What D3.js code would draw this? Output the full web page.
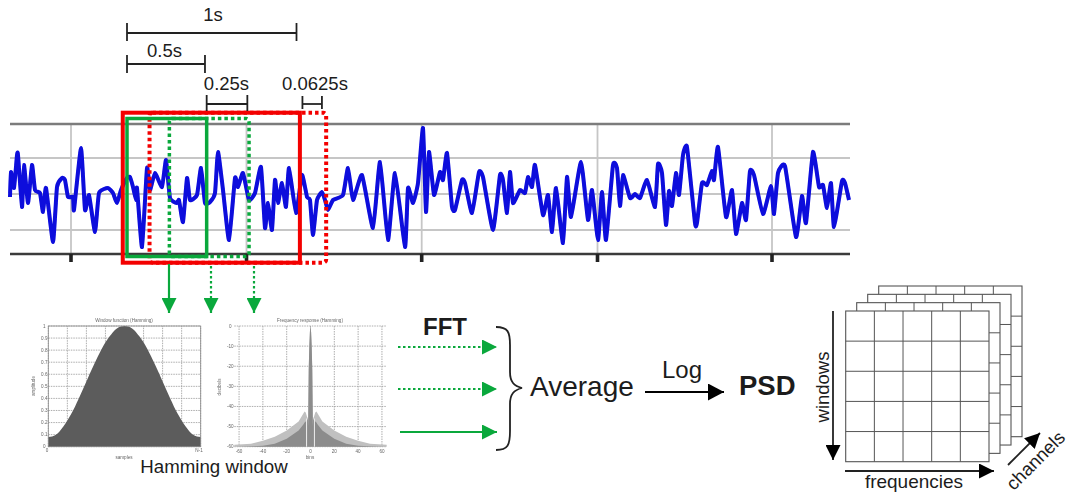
<!DOCTYPE html>
<html>
<head>
<meta charset="utf-8">
<script src="https://cdn.jsdelivr.net/npm/d3@7"></script>
<style>
  html, body { margin: 0; padding: 0; background: #fff; }
  text { font-family: "Liberation Sans", sans-serif; fill: #1c1c1c; }
</style>
</head>
<body>
<div id="chart"></div>
<script>
// EEG trace, sample index and amplitude
var sampleIdx = [0,1,4,7,8,12,14,18,22,25,30,33,36,43,47,52,55,58,63,64,71,75,79,85,89,98,103,107,111,117,120,123,126,127,132,137,140,145,152,156,160,167,169,173,177,180,187,191,195,200,205,208,213,219,225,228,233,239,245,251,255,258,262,265,268,272,276,279,286,292,297,300,303,307,312,315,318,323,333,338,343,352,363,370,378,385,395,398,403,408,413,416,419,424,430,433,437,442,445,452,455,462,469,473,483,490,493,497,500,503,510,515,518,522,525,533,538,542,546,553,557,561,571,578,582,588,592,596,603,607,610,613,620,625,630,637,645,648,652,656,659,662,666,669,673,677,685,687,692,697,702,704,708,716,722,726,732,736,740,744,753,761,764,768,775,786,792,796,803,809,813,817,821,824,832,835,839];
var sampleAmp = [-3,22,6,39,39,-13,29,-9,29,4,1,-18,6,-48,7,16,14,-3,-3,-16,46,-16,-1,-38,1,6,1,-9,4,16,17,7,-6,6,-53,26,4,21,7,34,-4,-9,-6,-28,16,-6,-1,26,-9,-8,1,42,4,-46,16,7,21,-6,1,27,-34,-9,-36,14,-9,11,-13,26,-19,19,-3,-6,-41,-6,2,-6,-16,-6,-1,26,-6,19,-34,32,-46,21,-53,6,-9,11,66,-18,42,-1,22,14,41,-13,-16,14,11,-19,22,17,-36,19,14,-19,22,-9,4,1,17,7,29,-21,-1,-38,6,-49,17,-23,32,-26,4,-46,2,-46,29,26,-12,19,-4,0,-4,14,-13,30,21,-31,3,-12,21,-1,39,47,-29,-29,11,9,23,14,47,-23,4,-40,-9,-26,23,19,-20,8,-20,21,28,-43,-2,-29,42,7,9,-14,11,-33,13,11,-6];
var ampGrid = [36, 0, -36];
var timeTicks = [61, 236.5, 411.7, 587.5, 762];

// analysis windows, seconds from the start of the first 1s window
var redWindows = [[0.133, 1.175], [-0.025, 1.02]];
var greenWindows = [[0.25, 0.72], [0, 0.47]];
var redDash = [true, false];
var greenDash = [true, false];

// duration brackets: start, end, label
var bracketStart = [0, 0, 0.47, 1.035];
var bracketEnd = [1, 0.46, 0.71, 1.15];
var bracketLabel = ["1s", "0.5s", "0.25s", "0.0625s"];

// Hamming window amplitude
var hammingX = [0,0.05,0.1,0.15,0.2,0.25,0.3,0.35,0.4,0.45,0.5,0.55,0.6,0.65,0.7,0.75,0.8,0.85,0.9,0.95,1];
var hammingY = [0.08,0.1,0.17,0.27,0.4,0.54,0.68,0.81,0.91,0.98,1,0.98,0.91,0.81,0.68,0.54,0.4,0.27,0.17,0.1,0.08];
var ampTicks = [0,0.1,0.2,0.3,0.4,0.5,0.6,0.7,0.8,0.9,1];

// frequency response in decibels, envelope and inner fill
var binX = [-64,-50,-40,-30,-20,-10,-6,-5,-4,-3,-2.2,-2,-1.5,-1,-0.5,0,0.5,1,1.5,2,2.2,3,4,5,6,10,20,30,40,50,64];
var envelopeDb = [-59,-58.5,-57,-55,-52,-47.5,-43.5,-42.5,-43,-45,-46,-50,-22,-10,-3,0,-3,-10,-22,-50,-46,-45,-43,-42.5,-43.5,-47.5,-52,-55,-57,-58.5,-59];
var innerDb = [-60,-59.8,-59.5,-58.5,-56,-52,-49,-48,-47.5,-47,-46,-50,-22,-10,-3,0,-3,-10,-22,-50,-46,-47,-47.5,-48,-49,-52,-56,-58.5,-59.5,-59.8,-60];
var dbTicks = [0,-10,-20,-30,-40,-50,-60];
var binTicks = [-60,-40,-20,0,20,40,60];

// PSD cube
var cubeLayers = [3, 2, 1, 0];
var freqCols = [0, 1, 2, 3, 4];
var windowRows = [0, 1, 2, 3, 4];

var green = "#0aa83c", red = "#f30000", blue = "#0808dc";

var svg = d3.select("#chart").append("svg")
	.attr("width", 1072)
	.attr("height", 492)
	.style("display", "block");

var defs = svg.append("defs");
defs.append("filter").attr("id", "soft").append("feGaussianBlur").attr("stdDeviation", 0.6);
defs.append("filter").attr("id", "softer").append("feGaussianBlur").attr("stdDeviation", 0.4);

function marker(id, color, w, h) {
	defs.append("marker")
		.attr("id", id)
		.attr("markerUnits", "userSpaceOnUse")
		.attr("markerWidth", w)
		.attr("markerHeight", h)
		.attr("refX", w)
		.attr("refY", h / 2)
		.attr("orient", "auto")
		.append("path")
		.attr("d", "M0,0L" + w + "," + (h / 2) + "L0," + h + "Z")
		.attr("fill", color);
}
marker("headGreen", green, 15, 15);
marker("headBlack", "#000", 16, 17);
marker("headSmall", "#000", 15, 15);

function arrow(x1, y1, x2, y2, color, width, head, dash) {
	svg.append("line")
		.attr("x1", x1).attr("y1", y1).attr("x2", x2).attr("y2", y2)
		.attr("stroke", color)
		.attr("stroke-width", width)
		.attr("stroke-dasharray", dash || null)
		.attr("marker-end", "url(#" + head + ")");
}

// signal panel
var sx = d3.scaleLinear().domain([0, 840]).range([10, 850]);
var sy = d3.scaleLinear().domain([-60, 70]).range([254, 124]);
var tx = d3.scaleLinear().domain([0, 1]).range([127, 296.5]);

var panel = svg.append("g").attr("filter", "url(#soft)");
panel.selectAll(".grid-h").data(ampGrid).enter().append("line")
	.attr("x1", sx(0)).attr("x2", sx(840))
	.attr("y1", function(d) { return sy(d); })
	.attr("y2", function(d) { return sy(d); })
	.attr("stroke", "#c6c6c6").attr("stroke-width", 1.8);
panel.selectAll(".grid-v").data(timeTicks).enter().append("line")
	.attr("x1", function(d) { return sx(d); })
	.attr("x2", function(d) { return sx(d); })
	.attr("y1", sy(70)).attr("y2", sy(-60))
	.attr("stroke", "#c6c6c6").attr("stroke-width", 1.8);
panel.append("line").attr("x1", sx(0)).attr("x2", sx(840)).attr("y1", sy(70)).attr("y2", sy(70))
	.attr("stroke", "#7c7c7c").attr("stroke-width", 2.6);
panel.append("line").attr("x1", sx(0)).attr("x2", sx(840)).attr("y1", sy(-60)).attr("y2", sy(-60))
	.attr("stroke", "#3a3a3a").attr("stroke-width", 2.6);
panel.selectAll(".tick").data(timeTicks).enter().append("line")
	.attr("x1", function(d) { return sx(d); })
	.attr("x2", function(d) { return sx(d); })
	.attr("y1", sy(-60)).attr("y2", sy(-68))
	.attr("stroke", "#222").attr("stroke-width", 3.6);

var signalLine = d3.line()
	.x(function(d, i) { return sx(sampleIdx[i]); })
	.y(function(d) { return sy(d); })
	.curve(d3.curveCardinal.tension(0.55));
panel.append("path")
	.datum(sampleAmp)
	.attr("d", signalLine)
	.attr("fill", "none")
	.attr("stroke", blue)
	.attr("stroke-width", 4)
	.attr("stroke-linejoin", "round");

// analysis windows, dotted first so the solid ones sit on top
function drawWindow(d, dashed, color, y0, y1, w) {
	svg.append("rect")
		.attr("x", tx(d[0]))
		.attr("y", y0)
		.attr("width", tx(d[1]) - tx(d[0]))
		.attr("height", y1 - y0)
		.attr("rx", dashed ? 3 : 0)
		.attr("fill", "none")
		.attr("stroke", color)
		.attr("stroke-width", w)
		.attr("stroke-dasharray", dashed ? "3.5 3" : null);
}
redWindows.forEach(function(d, i) { if (redDash[i]) drawWindow(d, true, red, 112.7, 262.7, 4); });
greenWindows.forEach(function(d, i) { if (greenDash[i]) drawWindow(d, true, green, 118.5, 256.5, 3.5); });
redWindows.forEach(function(d, i) { if (!redDash[i]) drawWindow(d, false, red, 112.7, 262.7, 4); });
greenWindows.forEach(function(d, i) { if (!greenDash[i]) drawWindow(d, false, green, 118.5, 256.5, 3.5); });

// duration brackets
var bracketY = [33, 64, 104, 104];
var labelX = [213, 164.5, 226.5, 315];
var labelY = [21, 57, 90, 90];
var tickUp = [10, 9, 9, 8];
var tickDown = [8, 9, 7, 5];
var fig = svg.append("g").attr("filter", "url(#softer)");
bracketStart.forEach(function(s, i) {
	var x0 = tx(s), x1 = tx(bracketEnd[i]), y = bracketY[i];
	fig.append("line").attr("x1", x0).attr("x2", x1).attr("y1", y).attr("y2", y)
		.attr("stroke", "#222").attr("stroke-width", 1.8);
	[x0, x1].forEach(function(x) {
		fig.append("line").attr("x1", x).attr("x2", x).attr("y1", y - tickUp[i]).attr("y2", y + tickDown[i])
			.attr("stroke", "#222").attr("stroke-width", 1.8);
	});
	svg.append("text")
		.attr("x", labelX[i]).attr("y", labelY[i])
		.attr("text-anchor", "middle")
		.style("font-size", "18.5px")
		.text(bracketLabel[i]);
});

// green arrows from the windows to the small plots
arrow(169, 264, 169, 313, green, 2.2, "headGreen");
arrow(211, 266, 211, 313, green, 2.2, "headGreen", "2.5 2.5");
arrow(254, 266, 254, 313, green, 2.2, "headGreen", "2.5 2.5");

// small plots
function miniGrid(g, x, y, xt, yt) {
	g.selectAll(".gx").data(xt).enter().append("line")
		.attr("x1", function(d) { return x(d); }).attr("x2", function(d) { return x(d); })
		.attr("y1", y.range()[0]).attr("y2", y.range()[1])
		.attr("stroke", "#999").attr("stroke-width", 0.8).attr("stroke-dasharray", "1.5 1");
	g.selectAll(".gy").data(yt).enter().append("line")
		.attr("x1", x.range()[0]).attr("x2", x.range()[1])
		.attr("y1", function(d) { return y(d); }).attr("y2", function(d) { return y(d); })
		.attr("stroke", "#999").attr("stroke-width", 0.8).attr("stroke-dasharray", "1.5 1");
}
function miniFrame(g, x, y) {
	g.append("rect")
		.attr("x", x.range()[0]).attr("y", y.range()[1])
		.attr("width", x.range()[1] - x.range()[0])
		.attr("height", y.range()[0] - y.range()[1])
		.attr("fill", "none").attr("stroke", "#888").attr("stroke-width", 0.8);
}
function miniText(g, s, x, y, rot) {
	var t = g.append("text")
		.attr("text-anchor", "middle")
		.style("font-size", "4.6px")
		.style("fill", "#666")
		.text(s);
	if (rot) t.attr("transform", "translate(" + x + "," + y + ") rotate(-90)");
	else t.attr("x", x).attr("y", y);
}

// Hamming window plot
var hx = d3.scaleLinear().domain([0, 1]).range([48.3, 200.7]);
var hy = d3.scaleLinear().domain([0, 1]).range([446.7, 326]);
var g1 = svg.append("g").attr("filter", "url(#softer)");
miniGrid(g1, hx, hy, d3.range(0, 1.01, 0.125), ampTicks);
g1.append("path")
	.datum(hammingY)
	.attr("d", d3.area()
		.x(function(d, i) { return hx(hammingX[i]); })
		.y0(hy(0))
		.y1(function(d) { return hy(d); })
		.curve(d3.curveMonotoneX))
	.attr("fill", "#5b5b5b");
miniFrame(g1, hx, hy);
ampTicks.forEach(function(d) {
	var s = d === 0 ? "0" : d === 1 ? "1" : d.toFixed(1);
	miniText(g1, s, hx(0) - 4, hy(d) + 1.6);
});
miniText(g1, "Window function (Hamming)", 124, 322);
miniText(g1, "amplitude", 35, 386, true);
miniText(g1, "samples", 124, 459);
miniText(g1, "0", 47, 452);
miniText(g1, "N-1", 199, 452);

// frequency response plot
var fx = d3.scaleLinear().domain([-64, 64]).range([234.3, 386.7]);
var fy = d3.scaleLinear().domain([0, -60]).range([326, 446.7]);
var g2 = svg.append("g").attr("filter", "url(#softer)");
miniGrid(g2, fx, fy, binTicks, dbTicks);
var dbArea = d3.area()
	.x(function(d, i) { return fx(binX[i]); })
	.y0(fy(-60))
	.y1(function(d) { return fy(d); });
g2.append("path").datum(envelopeDb).attr("d", dbArea).attr("fill", "#c0c0c0");
g2.append("path").datum(innerDb).attr("d", dbArea).attr("fill", "#8c8c8c");
[-3.3, 3.3].forEach(function(b) {
	g2.append("line")
		.attr("x1", fx(b)).attr("x2", fx(b)).attr("y1", fy(-46)).attr("y2", fy(-60))
		.attr("stroke", "#eee").attr("stroke-width", 1);
});
miniFrame(g2, fx, fy);
dbTicks.forEach(function(d) { miniText(g2, String(d), fx.range()[0] - 4, fy(d) + 1.6); });
binTicks.forEach(function(d) { miniText(g2, String(d), fx(d), 453); });
miniText(g2, "Frequency response (Hamming)", 310, 322);
miniText(g2, "decibels", 221, 387, true);
miniText(g2, "bins", 310, 459);

svg.append("text").attr("x", 214).attr("y", 473).attr("text-anchor", "middle")
	.style("font-size", "18.7px").text("Hamming window");

// FFT arrows
arrow(398, 347, 497, 347, green, 2.2, "headGreen", "2.5 2.5");
arrow(398, 389, 497, 389, green, 2.2, "headGreen", "2.5 2.5");
arrow(400, 432, 497, 432, green, 2.2, "headGreen");
svg.append("text").attr("x", 445).attr("y", 335).attr("text-anchor", "middle")
	.style("font-size", "24px").style("font-weight", "bold").text("FFT");

// brace
svg.append("path")
	.attr("d", "M496,327C508,327 510,332 510,345L510,372C510,382 514,386 522,388C514,390 510,394 510,404L510,431C510,445 508,450 496,450")
	.attr("fill", "none").attr("stroke", "#222").attr("stroke-width", 1.8);

svg.append("text").attr("x", 530).attr("y", 396).style("font-size", "28px").text("Average");
svg.append("text").attr("x", 682).attr("y", 378).attr("text-anchor", "middle").style("font-size", "24px").text("Log");
arrow(645, 392, 724, 392, "#000", 2.2, "headBlack");
svg.append("text").attr("x", 739).attr("y", 395).style("font-size", "27.5px").style("font-weight", "bold").text("PSD");

// PSD cube, back layers first
var cx = d3.scaleLinear().domain([0, 5]).range([845.7, 989]);
var cy = d3.scaleLinear().domain([0, 5]).range([311, 461.7]);
var layerDx = d3.scaleLinear().domain([0, 3]).range([0, 33]);
var layerDy = d3.scaleLinear().domain([0, 3]).range([0, -25]);
var cube = svg.append("g").attr("filter", "url(#softer)");
cubeLayers.forEach(function(k) {
	var g = cube.append("g")
		.attr("transform", "translate(" + layerDx(k) + "," + layerDy(k) + ")");
	g.append("rect")
		.attr("x", cx(0)).attr("y", cy(0))
		.attr("width", cx(5) - cx(0)).attr("height", cy(5) - cy(0))
		.attr("fill", "#fff").attr("stroke", "#555").attr("stroke-width", 1.1);
	g.selectAll(".c").data(freqCols.slice(1)).enter().append("line")
		.attr("x1", function(d) { return cx(d); }).attr("x2", function(d) { return cx(d); })
		.attr("y1", cy(0)).attr("y2", cy(5))
		.attr("stroke", "#555").attr("stroke-width", 1);
	g.selectAll(".r").data(windowRows.slice(1)).enter().append("line")
		.attr("x1", cx(0)).attr("x2", cx(5))
		.attr("y1", function(d) { return cy(d); }).attr("y2", function(d) { return cy(d); })
		.attr("stroke", "#555").attr("stroke-width", 1);
});
arrow(833, 311, 833, 460, "#222", 1.8, "headSmall");
arrow(845, 471, 994, 471, "#222", 1.8, "headSmall");
arrow(1008, 465, 1040, 433, "#222", 1.8, "headSmall");

svg.append("text").attr("text-anchor", "middle").style("font-size", "18.5px")
	.attr("transform", "translate(829,387) rotate(-90)").text("windows");
svg.append("text").attr("x", 914).attr("y", 488).attr("text-anchor", "middle").style("font-size", "19px").text("frequencies");
svg.append("text").attr("text-anchor", "middle").style("font-size", "18.5px")
	.attr("transform", "translate(1040,465) rotate(-45)").text("channels");
</script>
</body>
</html>
